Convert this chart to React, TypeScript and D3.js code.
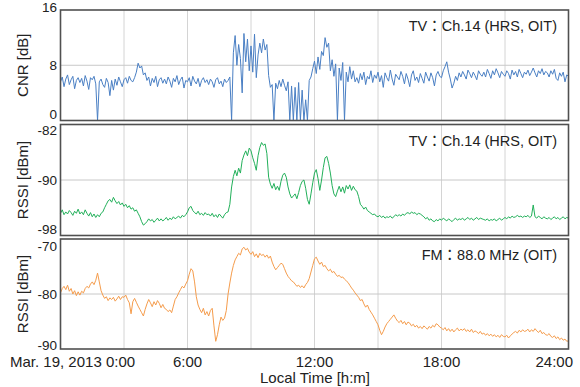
import React from 'react';
import * as d3 from 'd3';

// one sample every 5 minutes, 0:00 .. 24:00 (12 per hour)
const cnrValues = [
  5.6, 6.3, 4.9, 6.0, 6.6, 5.2, 5.9, 6.4, 4.6, 5.8, 6.2, 5.5,
  6.1, 5.0, 6.5, 5.7, 4.5, 6.2, 5.9, 6.4, 5.3, 0, 5.6, 6.0,
  5.2, 4.8, 6.1, 5.5, 3.6, 5.8, 4.4, 6.0, 5.1, 6.3, 5.6, 4.9,
  5.9, 6.2, 5.4, 6.4, 5.8, 5.6, 6.2, 7.0, 8.3, 7.6, 7.9, 6.6,
  6.9, 5.8, 6.3, 5.0, 6.1, 5.5, 6.4, 4.9, 5.9, 6.2, 5.4, 6.0,
  5.3, 6.3, 5.7, 4.8, 6.1, 5.6, 6.5, 5.2, 5.9, 6.3, 4.7, 5.8,
  5.6, 6.2, 5.0, 6.4, 5.7, 5.3, 6.1, 4.9, 5.8, 6.2, 5.5, 5.9,
  5.2, 6.0, 5.6, 4.8, 5.9, 6.2, 5.3, 5.7, 4.9, 6.0, 5.5, 5.8,
  6.3, 0, 9.8, 12.3, 8.0, 11.0, 9.0, 4.0, 12.6, 8.5, 11.8, 7.2,
  10.8, 7.0, 12.5, 6.2, 9.5, 11.2, 9.8, 11.8, 10.2, 11.0, 6.5, 4.8,
  5.2, 0, 5.4, 4.6, 5.8, 4.9, 6.0, 5.1, 4.3, 5.6, 0, 5.0,
  0, 4.8, 0, 5.5, 0, 4.4, 0, 3.0, 0, 5.8, 6.3, 7.5,
  8.6, 6.8, 9.2, 7.4, 10.0, 9.4, 12.0, 10.6, 11.2, 7.2, 8.8, 6.4,
  8.2, 0, 7.6, 5.8, 8.4, 0, 7.0, 5.6, 7.8, 6.0, 7.2, 5.6,
  6.2, 5.4, 6.8, 5.9, 7.0, 5.2, 6.4, 6.0, 7.2, 5.5, 6.6, 6.1,
  7.0, 5.6, 6.5, 4.8, 6.9, 6.2, 5.7, 7.3, 6.0, 5.1, 6.7, 6.3,
  5.9, 7.1, 6.4, 5.3, 6.8, 6.0, 4.9, 6.6, 7.2, 5.8, 6.3, 5.5,
  6.8, 6.1, 5.4, 7.0, 6.3, 5.7, 6.9, 6.2, 5.0, 6.6, 7.1, 6.4,
  6.2, 7.2, 7.8, 8.5, 7.0, 6.0, 4.7, 5.4, 6.4, 5.8, 6.9, 6.3,
  7.1, 6.6, 6.0, 7.3, 6.8, 6.2, 7.0, 6.5, 5.9, 7.2, 6.7, 6.4,
  7.0, 6.3, 7.4, 6.8, 6.1, 7.2, 6.6, 7.5, 6.9, 6.2, 7.1, 6.7,
  6.4, 7.2, 6.8, 6.0, 7.3, 6.6, 7.1, 6.3, 7.4, 6.8, 6.2, 7.0,
  6.7, 7.3, 6.5, 7.0, 7.6, 6.9, 6.3, 7.2, 6.8, 7.5, 6.6, 7.1,
  6.9, 6.3, 7.2, 6.7, 7.4, 6.1, 5.8, 6.9, 6.4, 7.0, 5.6, 6.6,
  6.4,
];

const tvRssiValues = [
  -94.8, -94.3, -95.0, -94.6, -94.9, -94.4, -94.7, -95.1, -94.5, -94.8, -94.2, -94.9,
  -94.6, -95.0, -94.3, -94.8, -95.2, -94.7, -95.3, -94.9, -95.4, -95.0, -95.3, -94.8,
  -94.6, -94.0, -93.5, -93.0, -92.8, -93.2, -92.5, -93.0, -93.4, -93.1, -93.6, -93.3,
  -93.8, -93.5, -94.0, -93.7, -94.2, -94.0, -94.5, -94.3, -94.8, -95.3, -96.0, -96.5,
  -96.3, -96.0, -95.6, -95.9, -95.7, -96.1, -95.8, -95.5, -95.9, -95.6, -95.9, -95.7,
  -95.4, -95.8, -95.5, -95.7, -95.3, -95.6, -95.4, -95.2, -95.5, -95.1, -95.3, -95.0,
  -94.6, -94.0, -93.8, -94.4, -94.7, -94.9, -94.5, -95.0, -94.8, -95.1, -94.7, -95.0,
  -94.9, -95.2, -94.8, -95.3, -95.0, -95.4, -94.9, -95.2, -95.5, -95.0, -94.7, -94.6,
  -93.5, -91.0, -89.5, -88.6, -89.4, -88.3, -89.0, -87.2, -86.4, -85.8, -86.5, -85.4,
  -85.8, -86.8, -87.6, -88.6, -86.5, -85.3, -84.6, -85.0, -84.8, -86.2, -89.6, -90.6,
  -91.2, -90.5, -91.4, -90.9, -91.5, -90.2, -89.3, -89.0, -89.6, -91.0, -92.0, -92.6,
  -92.3, -92.0, -92.7, -91.8, -90.8, -90.2, -90.0, -91.2, -92.8, -93.5, -92.0, -90.4,
  -89.0, -88.5, -89.8, -91.5, -90.0, -88.2, -86.8, -86.6, -87.6, -89.0, -90.8, -92.0,
  -92.4, -91.6, -90.9, -91.7, -91.0, -91.9, -90.8, -91.3, -90.7, -91.5, -90.9, -91.4,
  -91.6, -92.4, -93.5, -93.8, -94.2, -93.9, -94.4, -94.6, -94.8, -95.0, -94.9, -95.2,
  -95.3, -95.1, -95.4, -95.2, -95.5, -95.3, -95.4, -95.2, -95.5, -95.3, -95.0, -95.2,
  -95.0, -95.2, -94.9, -95.1, -94.8, -94.7, -94.9, -94.6, -94.8, -94.7, -95.0, -94.8,
  -94.9, -95.1, -95.3, -95.6, -95.4, -95.8, -95.6, -95.9, -96.0, -95.7, -95.9, -95.6,
  -95.8, -95.5, -95.7, -95.9, -95.6, -95.8, -96.0, -95.7, -95.5, -95.8, -95.6, -95.7,
  -95.5, -95.8, -95.6, -95.4, -95.7, -95.5, -95.8, -95.6, -95.4, -95.7, -95.5, -95.6,
  -95.7, -95.8, -95.6, -95.9, -95.7, -95.8, -95.6, -95.9, -95.7, -95.5, -95.8, -95.6,
  -95.4, -95.6, -95.3, -95.5, -95.2, -95.4, -95.3, -95.1, -95.3, -95.2, -95.4, -95.2,
  -95.3, -95.1, -95.4, -95.2, -93.6, -95.3, -95.5, -95.2, -95.4, -95.6, -95.3, -95.5,
  -95.6, -95.4, -95.7, -95.5, -95.3, -95.6, -95.4, -95.7, -95.5, -95.3, -95.6, -95.4,
  -95.5,
];

const fmRssiValues = [
  -79.8, -79.0, -78.6, -79.2, -78.4, -79.5, -79.0, -80.0, -79.4, -80.3, -79.6, -80.2,
  -79.5, -79.8, -79.0, -78.6, -78.9, -78.2, -77.8, -78.3, -77.5, -76.2, -77.8, -79.4,
  -80.2, -80.8, -80.5, -81.2, -80.7, -81.0, -80.6, -81.3, -80.9, -80.4, -81.0, -80.5,
  -80.6, -80.2, -81.0, -81.6, -83.6, -81.4, -80.8, -81.5, -82.2, -82.8, -83.4, -84.0,
  -82.8, -81.8, -81.0, -81.6, -82.3, -81.4, -82.0, -81.2, -81.7, -82.5, -81.9, -82.6,
  -82.8, -83.2, -82.9, -83.4, -82.2, -81.0, -80.5, -79.8, -79.2, -78.6, -78.9, -78.2,
  -77.6, -76.4, -75.4, -75.8, -77.8, -80.5, -82.0, -82.8, -83.4, -82.6, -83.8, -83.2,
  -84.0, -83.0, -82.6, -85.8, -88.6, -87.4, -85.6, -84.2, -84.8, -84.4, -83.0, -80.0,
  -78.0, -76.2, -74.8, -73.8, -73.2, -72.6, -72.9, -71.8, -71.5, -72.0, -71.7, -72.4,
  -72.8, -72.3, -73.2, -72.7, -73.4, -72.6, -73.0, -72.8, -73.3, -72.9, -73.5, -73.1,
  -74.2, -75.0, -75.6, -75.2, -74.8, -74.4, -74.6, -75.4, -76.2, -76.8, -77.2, -77.6,
  -77.8, -78.2, -78.6, -78.4, -78.8, -78.5, -78.9, -78.3, -77.9, -77.2, -76.0, -74.8,
  -73.6, -73.3, -74.0, -74.6, -74.2, -75.0, -74.8, -75.4, -75.8, -75.5, -76.1, -75.9,
  -76.4, -76.8, -76.6, -77.0, -76.9, -77.3, -77.6, -77.9, -78.4, -78.9, -79.3, -79.8,
  -80.2, -80.6, -81.2, -81.0, -81.8, -82.4, -82.0, -82.8, -83.3, -83.8, -84.4, -85.0,
  -85.6, -86.6, -87.4, -86.8, -86.0, -85.4, -85.0, -84.6, -84.2, -83.8, -84.4, -84.9,
  -85.2, -84.8, -85.4, -85.0, -85.6, -85.1, -85.3, -85.8, -85.5, -86.0, -85.7, -86.2,
  -85.9, -86.3, -85.8, -86.1, -86.4, -85.9, -86.2, -85.7, -86.0, -85.4, -85.6, -86.0,
  -86.2, -86.5, -86.1, -86.7, -86.3, -86.8, -86.4, -86.9, -86.5, -86.2, -86.7, -86.4,
  -86.6, -86.3, -86.8, -86.5, -86.9, -86.4, -87.0, -86.7, -86.9, -87.2, -86.8, -87.3,
  -87.1, -87.5, -87.2, -87.6, -87.3, -87.7, -87.4, -87.8, -87.5, -87.9, -87.4, -87.7,
  -87.8, -87.5, -88.0, -87.6, -87.3, -87.0, -86.8, -87.1, -86.6, -86.9, -86.5, -86.8,
  -86.7, -86.4, -86.9, -86.5, -86.8, -86.3, -86.7, -87.0, -86.6, -87.2, -87.0, -87.4,
  -87.5, -87.2, -87.7, -87.9, -87.6, -88.1, -87.8, -88.3, -88.0, -88.4, -88.2, -88.6,
  -88.5,
];

const hourTicks = [0, 6, 12, 18, 24];
const hourTickLabels = ['Mar. 19, 2013 0:00', '6:00', '12:00', '18:00', '24:00'];
const gridHours = [3, 6, 9, 12, 15, 18, 21];

const cnrTicks = [0, 8, 16];
const tvRssiTicks = [-98, -90, -82];
const fmRssiTicks = [-90, -80, -70];

const W = 580;
const H = 387;
const left = 60.5;
const right = 568.5;
const font = "'Liberation Sans', Arial, 'Noto Sans CJK JP', sans-serif";

// nudge = [top tick label, bottom tick label] so stacked labels don't collide
const panels = [
  { values: cnrValues, ticks: cnrTicks, title: 'CNR [dB]', note: 'TV：Ch.14 (HRS, OIT)', color: '#4a7fc4', top: 10, bottom: 120.5, nudge: [-3, -6] },
  { values: tvRssiValues, ticks: tvRssiTicks, title: 'RSSI [dBm]', note: 'TV：Ch.14 (HRS, OIT)', color: '#22b05a', top: 124.5, bottom: 235.5, nudge: [6, -6] },
  { values: fmRssiValues, ticks: fmRssiTicks, title: 'RSSI [dBm]', note: 'FM：88.0 MHz (OIT)', color: '#f59c4c', top: 239, bottom: 349, nudge: [7, -4] },
];

export default function App() {
  const x = d3.scaleLinear().domain([0, 24]).range([left, right]);

  return (
    <div style={{ position: 'absolute', left: 0, top: 0 }}>
      <svg width={W} height={H} style={{ display: 'block', background: '#fff' }} fontFamily={font}>
        {panels.map((p, k) => {
          const y = d3.scaleLinear()
            .domain([p.ticks[0], p.ticks[p.ticks.length - 1]])
            .range([p.bottom, p.top]);
          const line = d3.line<number>()
            .x((_, i) => x((i * 5) / 60))
            .y(d => y(d));
          const mid = (p.top + p.bottom) / 2;
          return (
            <g key={k}>
              {gridHours.map(h => (
                <line key={'v' + h} x1={x(h)} x2={x(h)} y1={p.top} y2={p.bottom} stroke="#d4d4d4" strokeWidth={1} />
              ))}
              {p.ticks.slice(1, -1).map(t => (
                <line key={'h' + t} x1={left} x2={right} y1={y(t)} y2={y(t)} stroke="#c8c8c8" strokeWidth={1} />
              ))}
              <path d={line(p.values) || ''} fill="none" stroke={p.color} strokeWidth={1} strokeLinejoin="round" />
              <rect x={left} y={p.top} width={right - left} height={p.bottom - p.top} fill="none" stroke="#505050" strokeWidth={1.6} />
              {p.ticks.map((t, i) => {
                const off = i === 0 ? p.nudge[1] : i === p.ticks.length - 1 ? p.nudge[0] : 0;
                return (
                  <text key={'t' + t} x={57} y={y(t) + off} dy="0.35em" textAnchor="end" fontSize={13.5} fill="#222">
                    {t}
                  </text>
                );
              })}
              <text transform={`translate(28,${mid}) rotate(-90)`} textAnchor="middle" fontSize={15} fill="#222">
                {p.title}
              </text>
              <text x={557} y={p.top + 21} textAnchor="end" fontSize={14.5} fill="#222">
                {p.note}
              </text>
            </g>
          );
        })}
        {hourTicks.map((h, i) => (
          <text
            key={'x' + h}
            x={i === 0 ? 10 : i === hourTicks.length - 1 ? 573 : x(h)}
            y={367}
            textAnchor={i === 0 ? 'start' : i === hourTicks.length - 1 ? 'end' : 'middle'}
            fontSize={15}
            fill="#222"
          >
            {hourTickLabels[i]}
          </text>
        ))}
        <text x={315} y={383} textAnchor="middle" fontSize={15} fill="#222">
          Local Time [h:m]
        </text>
      </svg>
    </div>
  );
}
